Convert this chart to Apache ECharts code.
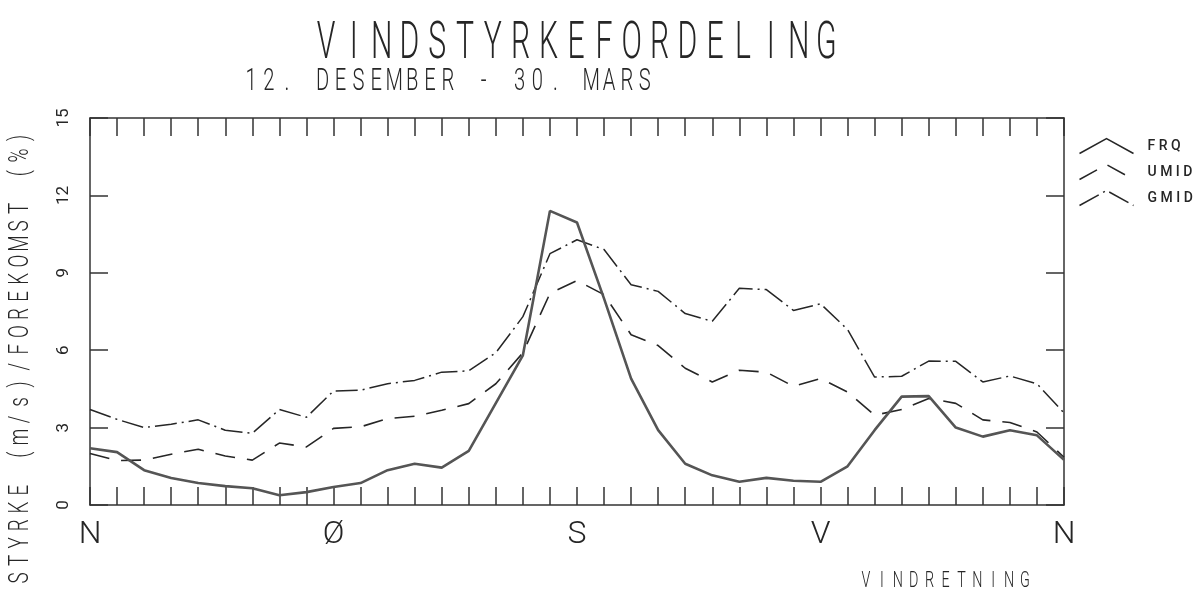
<!DOCTYPE html>
<html>
<head>
<meta charset="utf-8">
<script src="https://cdn.jsdelivr.net/npm/echarts@6/dist/echarts.min.js"></script>
<style>html,body{margin:0;padding:0;background:#fff}#c{width:1200px;height:591px}</style>
</head>
<body>
<div id="c"></div>
<script>
// ---- data ----
var directions = [0,10,20,30,40,50,60,70,80,90,100,110,120,130,140,150,160,170,180,190,200,210,220,230,240,250,260,270,280,290,300,310,320,330,340,350,360];
var frq  = [2.2,2.05,1.35,1.05,0.85,0.73,0.65,0.38,0.5,0.7,0.85,1.35,1.6,1.45,2.1,3.95,5.8,11.4,10.95,8.0,4.9,2.9,1.6,1.15,0.9,1.05,0.94,0.9,1.5,2.9,4.2,4.22,3.0,2.65,2.9,2.7,1.75];
var umid = [2.0,1.72,1.74,1.97,2.16,1.9,1.74,2.4,2.25,2.97,3.03,3.35,3.44,3.67,3.93,4.7,5.9,8.2,8.7,8.15,6.6,6.18,5.3,4.77,5.22,5.15,4.6,4.9,4.38,3.48,3.7,4.13,3.94,3.3,3.2,2.83,1.85];
var gmid = [3.7,3.32,3.0,3.13,3.3,2.9,2.78,3.7,3.4,4.42,4.45,4.7,4.83,5.15,5.2,5.9,7.3,9.74,10.28,9.9,8.54,8.28,7.42,7.12,8.4,8.35,7.54,7.8,6.8,4.96,4.99,5.58,5.57,4.77,5.0,4.7,3.57];
var seriesNames = ['FRQ','UMID','GMID'];
var dirLabels = {0:'N',90:'Ø',180:'S',270:'V',360:'N'};
var yTicks = [0,3,6,9,12,15];
var titleText = 'VINDSTYRKEFORDELING';
var subtitleText = '12. DESEMBER - 30. MARS';
var yNameText = 'STYRKE (m/s)/FOREKOMST (%)';
var xNameText = 'VINDRETNING';

function pairs(vals){ return directions.map(function(d,i){ return [d, vals[i]]; }); }

var ink = '#262626';
var FONT = 'Roboto, "Liberation Sans", sans-serif';

// spaced plotter-style text built from real text characters
function spaced(str, x0, y0, pitch, size, sx, vertical){
  var out = [];
  for (var i = 0; i < str.length; i++){
    var ch = str[i];
    if (ch === ' ') continue;
    out.push({
      type: 'text',
      x: vertical ? x0 : x0 + i * pitch,
      y: vertical ? y0 - i * pitch : y0,
      rotation: vertical ? Math.PI / 2 : 0,
      scaleX: sx,
      silent: true,
      style: { text: ch, fill: ink, align: 'center', verticalAlign: 'middle',
               font: '300 ' + size + 'px ' + FONT }
    });
  }
  return out;
}

var graphics = []
  .concat(spaced(titleText, 326, 45, 27.8, 52, 0.58, false))
  .concat(spaced(subtitleText, 251, 82, 17.9, 31, 0.65, false))
  .concat(spaced(yNameText, 21, 578, 17.6, 27, 0.7, true))
  .concat(spaced(xNameText, 866, 581, 15.9, 22, 0.65, false));

var chart = echarts.init(document.getElementById('c'), null, {renderer: 'canvas'});

var axisLineStyle = { color: '#333', width: 1.5 };
var tickStyle = { color: '#333', width: 1.5 };

chart.setOption({
  backgroundColor: '#fff',
  animation: false,
  grid: { left: 90, right: 136, top: 118, bottom: 86, containLabel: false },
  legend: {
    orient: 'vertical', left: 1077, top: 136, padding: 0,
    itemWidth: 56, itemHeight: 15, itemGap: 6,
    textStyle: { color: ink, fontSize: 14, fontWeight: 500, fontFamily: FONT, padding: [0,0,0,8] },
    formatter: function(n){ return n.split('').join(' '); },
    data: [
      { name: 'FRQ',  icon: 'path://M0,15 L27,0 L54,15', itemStyle: { color: 'none', borderColor: ink, borderWidth: 1.5 } },
      { name: 'UMID', icon: 'path://M0,15 L27,0 L54,15', itemStyle: { color: 'none', borderColor: ink, borderWidth: 1.5, borderType: [20, 12] } },
      { name: 'GMID', icon: 'path://M0,15 L27,0 L54,15', itemStyle: { color: 'none', borderColor: ink, borderWidth: 1.5, borderType: [22, 5, 2, 5] } }
    ]
  },
  xAxis: [
    { type: 'value', min: 0, max: 360, interval: 10, position: 'bottom',
      axisLine: { show: true, onZero: false, lineStyle: axisLineStyle },
      axisTick: { show: true, inside: true, length: 18, lineStyle: tickStyle },
      splitLine: { show: false },
      axisLabel: { show: true, margin: 14, color: ink, fontSize: 32, fontWeight: 300, fontFamily: FONT,
        formatter: function(v){ return dirLabels.hasOwnProperty(v) ? dirLabels[v] : ''; } } },
    { type: 'value', min: 0, max: 360, interval: 10, position: 'top',
      axisLine: { show: true, onZero: false, lineStyle: axisLineStyle },
      axisTick: { show: true, inside: true, length: 18, lineStyle: tickStyle },
      splitLine: { show: false }, axisLabel: { show: false } }
  ],
  yAxis: [
    { type: 'value', min: 0, max: 15, interval: 3, position: 'left',
      axisLine: { show: true, onZero: false, lineStyle: axisLineStyle },
      axisTick: { show: true, inside: true, length: 18, lineStyle: tickStyle },
      splitLine: { show: false },
      axisLabel: { show: true, rotate: 90, margin: 18, color: ink, fontSize: 17, fontWeight: 400, fontFamily: FONT,
        formatter: function(v){ return yTicks.indexOf(v) >= 0 ? String(v) : ''; } } },
    { type: 'value', min: 0, max: 15, interval: 3, position: 'right',
      axisLine: { show: true, onZero: false, lineStyle: axisLineStyle },
      axisTick: { show: true, inside: true, length: 18, lineStyle: tickStyle },
      splitLine: { show: false }, axisLabel: { show: false } }
  ],
  series: [
    { name: seriesNames[0], type: 'line', data: pairs(frq), symbol: 'none', smooth: false,
      lineStyle: { color: '#555', width: 2.6, type: 'solid' }, itemStyle: { color: ink }, z: 3 },
    { name: seriesNames[1], type: 'line', data: pairs(umid), symbol: 'none', smooth: false,
      lineStyle: { color: ink, width: 1.6, type: [20, 12] }, itemStyle: { color: ink }, z: 2 },
    { name: seriesNames[2], type: 'line', data: pairs(gmid), symbol: 'none', smooth: false,
      lineStyle: { color: ink, width: 1.5, type: [22, 5, 2, 5] }, itemStyle: { color: ink }, z: 2 }
  ],
  graphic: graphics
});
</script>
</body>
</html>
